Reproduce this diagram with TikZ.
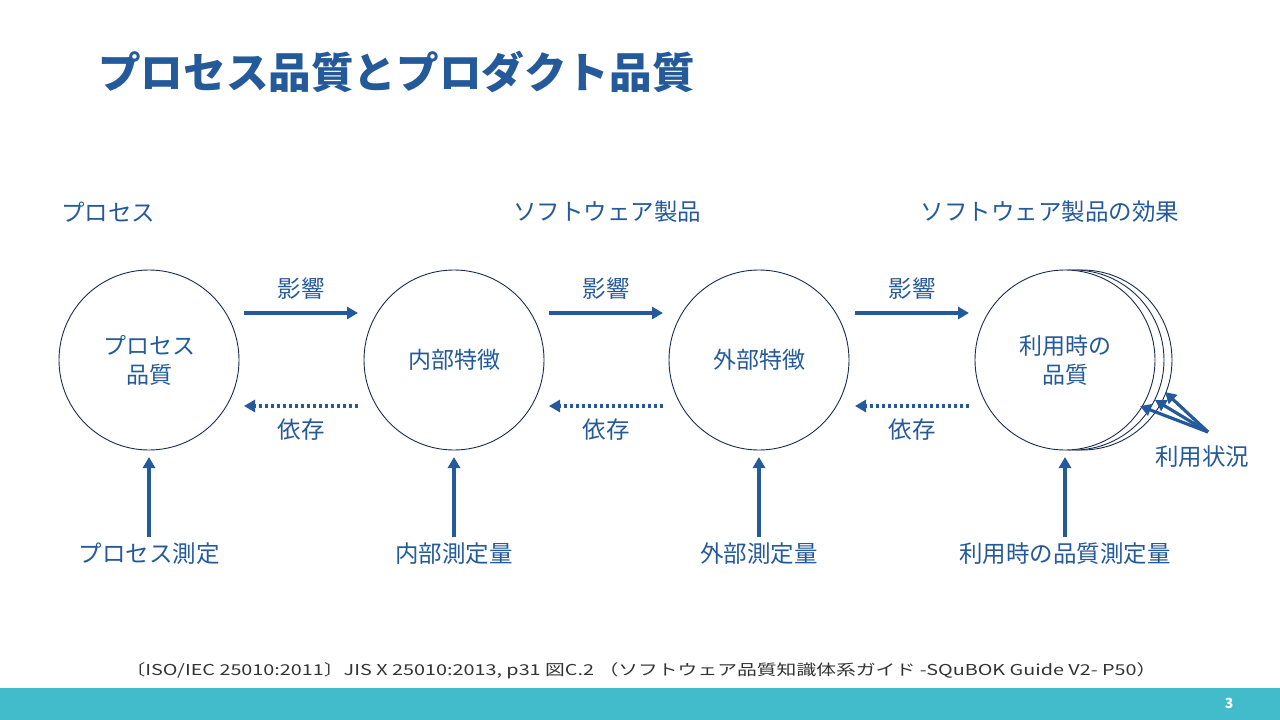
\documentclass[tikz,border=0pt]{standalone}
\usepackage{fontspec}
\setmainfont{Noto Sans CJK JP}
\newfontfamily\cjkmono{Noto Sans CJK JP}
\usetikzlibrary{arrows.meta}
\definecolor{qblue}{HTML}{245A9A}
\definecolor{qline}{HTML}{1B2D4F}
\definecolor{qbar}{HTML}{42BCCB}
\tikzset{
    qcircle/.style={circle, draw=qline, line width=0.9pt, fill=white, minimum size=180pt, inner sep=0pt, align=center, text=qblue, font=\fontsize{23}{29}\selectfont\mdseries}, % quality circle
    qtext/.style={text=qblue, font=\fontsize{23.5}{27}\selectfont, inner sep=0pt},
    solidarrow/.style={draw=qblue, line width=3.2pt, -{Triangle[length=11pt,width=12pt]}},
    dotarrow/.style={draw=qblue, line width=3.2pt, dash pattern=on 3.5pt off 2.5pt, -{Triangle[length=11pt,width=12pt]}},
}
\begin{document}
\begin{tikzpicture}[x=1pt, y=-1pt]
    \useasboundingbox (0,0) rectangle (1280,720);
    \fill[white] (0,0) rectangle (1280,720);
    \node[anchor=west, text=qblue, font=\fontsize{42.6}{50}\selectfont\bfseries, inner sep=0pt] (title) at (98,72) {プロセス品質とプロダクト品質};
    \node[qtext] (secproc) at (108,212) {プロセス};
    \node[qtext] (secprod) at (607,212) {ソフトウェア製品};
    \node[qtext] (seceff) at (1050,212) {ソフトウェア製品の効果};
    % circles
    \node[qcircle] (back2) at (1082,360) {};
    \node[qcircle] (back1) at (1074,360) {};
    \node[qcircle] (proc) at (149,360) {プロセス\\品質};
    \node[qcircle] (inner) at (454,360) {内部特徴};
    \node[qcircle] (outer) at (759,360) {外部特徴};
    \node[qcircle] (use) at (1065,360) {利用時の\\品質};
    % influence / dependence arrows
    \foreach \a/\b/\x in {proc/inner/301, inner/outer/606, outer/use/912} {
        \coordinate (\a-r) at (\x-57,313);
        \coordinate (\b-l) at (\x+57,313);
        \draw[solidarrow] (\a-r) -- (\b-l);
        \node[qtext] (inf-\a) at (\x,289) {影響};
        \coordinate (\b-ld) at (\x+57,406);
        \coordinate (\a-rd) at (\x-57,406);
        \draw[dotarrow] (\b-ld) -- (\a-rd);
        \node[qtext] (dep-\a) at (\x,430) {依存};
    }
    % measurements
    \foreach \n/\t in {proc/プロセス測定, inner/内部測定量, outer/外部測定量, use/利用時の品質測定量} {
        \node[qtext] (m-\n) at ([yshift=-194pt]\n.center) {\t};
        \coordinate (m-\n-top) at ([yshift=-177pt]\n.center);
        \coordinate (m-\n-tip) at ([yshift=-97pt]\n.center);
        \draw[solidarrow] (m-\n-top) -- (m-\n-tip);
    }
    % context of use
    \node[qtext] (ctx) at (1202,457) {利用状況};
    \coordinate (ctx-root) at (1208,432);
    \foreach \px/\py in {1140/406, 1155/400, 1165/392}
        \draw[solidarrow] (ctx-root) -- (\px,\py);
    % footer
    \node[font=\cjkmono\fontsize{15}{17}\selectfont, text=black!80, inner sep=0pt, xscale=1.32] (src) at (641,671) {〔ISO/IEC 25010:2011〕JIS X 25010:2013, p31 図C.2 （ソフトウェア品質知識体系ガイド -SQuBOK Guide V2- P50）};
    \fill[qbar] (0,688) rectangle (1280,720);
    \node[text=white, font=\fontsize{14}{16}\selectfont\bfseries, inner sep=0pt] (page) at (1229,703) {3};
\end{tikzpicture}
\end{document}
